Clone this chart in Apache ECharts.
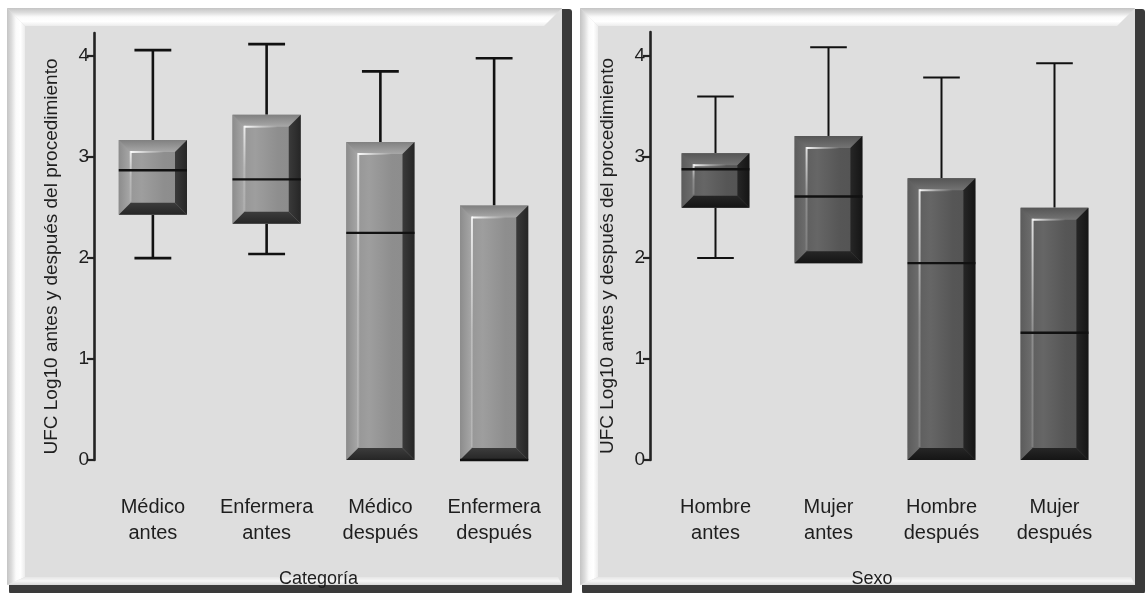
<!DOCTYPE html>
<html>
<head>
<meta charset="utf-8">
<script src="https://cdn.jsdelivr.net/npm/echarts@6/dist/echarts.min.js"></script>
<style>
  html, body { margin: 0; padding: 0; background: #ffffff; }
  #chart { width: 1145px; height: 593px; }
</style>
</head>
<body>
<div id="chart"></div>
<script>
// UFC (log10) before/after the procedure, by staff category and by sex
const categoriasProfesion = ['Médico\nantes', 'Enfermera\nantes', 'Médico\ndespués', 'Enfermera\ndespués'];
const minProfesion = [2.00, 2.04, 0.00, 0.00];
const q1Profesion  = [2.43, 2.34, 0.00, 0.00];
const medProfesion = [2.87, 2.78, 2.25, 0.00];
const q3Profesion  = [3.17, 3.42, 3.15, 2.52];
const maxProfesion = [4.06, 4.12, 3.85, 3.98];

const categoriasSexo = ['Hombre\nantes', 'Mujer\nantes', 'Hombre\ndespués', 'Mujer\ndespués'];
const minSexo = [2.00, 1.95, 0.00, 0.00];
const q1Sexo  = [2.50, 1.95, 0.00, 0.00];
const medSexo = [2.88, 2.61, 1.95, 1.26];
const q3Sexo  = [3.04, 3.21, 2.79, 2.50];
const maxSexo = [3.60, 4.09, 3.79, 3.93];

const yTicks = [0, 1, 2, 3, 4];
const yTitle = 'UFC Log10 antes y después del procedimiento';

function rows(mins, q1s, meds, q3s, maxs) {
  return mins.map((m, i) => [i, m, q1s[i], meds[i], q3s[i], maxs[i]]);
}

const lin = (x1, y1, x2, y2, stops) => ({
  type: 'linear', x: x1, y: y1, x2: x2, y2: y2,
  colorStops: stops.map((c, i) => ({ offset: i / (stops.length - 1), color: c }))
});

// Bevelled 3D box with whiskers
function makeRenderer(pal) {
  return function (params, api) {
    const x = api.value(0);
    const pMin = api.coord([x, api.value(1)]);
    const pQ1 = api.coord([x, api.value(2)]);
    const pMed = api.coord([x, api.value(3)]);
    const pQ3 = api.coord([x, api.value(4)]);
    const pMax = api.coord([x, api.value(5)]);
    const bw = api.size([1, 0])[0] * 0.6;
    const cx = pQ1[0];
    const x0 = cx - bw / 2, x1 = cx + bw / 2;
    const y0 = pQ3[1], y1 = pQ1[1];
    const h = y1 - y0;
    const b = Math.min(12, h / 2.2);
    const cap = bw * 0.27;
    const lineStyle = { stroke: '#111', lineWidth: pal.lw };
    const children = [];
    // whiskers
    children.push({ type: 'line', shape: { x1: cx, y1: pMax[1], x2: cx, y2: y0 }, style: lineStyle });
    children.push({ type: 'line', shape: { x1: cx - cap, y1: pMax[1], x2: cx + cap, y2: pMax[1] }, style: lineStyle });
    if (pMin[1] - y1 > 1) {
      children.push({ type: 'line', shape: { x1: cx, y1: y1, x2: cx, y2: pMin[1] }, style: lineStyle });
      children.push({ type: 'line', shape: { x1: cx - cap, y1: pMin[1], x2: cx + cap, y2: pMin[1] }, style: lineStyle });
    }
    // face
    children.push({ type: 'rect', shape: { x: x0, y: y0, width: bw, height: h },
      style: { fill: lin(0, 0, 1, 0, pal.face) } });
    // top bevel
    children.push({ type: 'polygon', shape: { points: [[x0, y0], [x1, y0], [x1 - b, y0 + b], [x0 + b, y0 + b]] },
      style: { fill: lin(0, 0, 0, 1, pal.top) } });
    // left bevel
    children.push({ type: 'polygon', shape: { points: [[x0, y0], [x0 + b, y0 + b], [x0 + b, y1 - b], [x0, y1]] },
      style: { fill: lin(0, 0, 1, 0, pal.left) } });
    // right bevel
    children.push({ type: 'polygon', shape: { points: [[x1, y0], [x1, y1], [x1 - b, y1 - b], [x1 - b, y0 + b]] },
      style: { fill: lin(0, 0, 1, 0, pal.right) } });
    // bottom bevel
    children.push({ type: 'polygon', shape: { points: [[x0, y1], [x1, y1], [x1 - b, y1 - b], [x0 + b, y1 - b]] },
      style: { fill: lin(0, 0, 0, 1, pal.bottom) } });
    // highlights
    children.push({ type: 'rect', shape: { x: x0 + b, y: y0 + b - 1, width: (bw - 2 * b) * 0.75, height: 2 },
      style: { fill: lin(0, 0, 1, 0, ['rgba(255,255,255,0.95)', 'rgba(255,255,255,0.4)', 'rgba(255,255,255,0)']) } });
    children.push({ type: 'rect', shape: { x: x0 + b - 1, y: y0 + b - 1, width: 2, height: Math.max(0, h - 2 * b) },
      style: { fill: lin(0, 0, 0, 1, ['rgba(255,255,255,0.8)', 'rgba(255,255,255,0.25)', 'rgba(255,255,255,0.15)']) } });
    // median
    children.push({ type: 'line', shape: { x1: x0, y1: pMed[1], x2: x1, y2: pMed[1] },
      style: { stroke: '#111', lineWidth: pal.mw } });
    return { type: 'group', children: children };
  };
}

const palLight = {
  lw: 2.6, mw: 2.4,
  face: ['#909090', '#9e9e9e', '#8e8e8e', '#8c8c8c'],
  top: ['#808080', '#a8a8a8'],
  left: ['#8c8c8c', '#a8a8a8'],
  right: ['#3a3a3a', '#262626'],
  bottom: ['#3c3c3c', '#262626']
};
const palDark = {
  lw: 2.0, mw: 2.4,
  face: ['#585858', '#666666', '#565656', '#535353'],
  top: ['#555555', '#737373'],
  left: ['#5c5c5c', '#6e6e6e'],
  right: ['#262626', '#151515'],
  bottom: ['#262626', '#151515']
};

// Raised panel frames
function panel(xa, xb, ya, yb) {
  const bv = 18;
  return [
    { type: 'rect', z: -20, shape: { x: xa + 2, y: ya + 1, width: xb - xa + 8, height: yb - ya + 8, r: 3 },
      style: { fill: '#3a3a3a' } },
    { type: 'rect', z: -19, shape: { x: xa, y: ya, width: xb - xa, height: yb - ya },
      style: { fill: '#dedede' } },
    { type: 'polygon', z: -18, shape: { points: [[xa, ya], [xb, ya], [xb - bv, ya + bv], [xa + bv, ya + bv]] },
      style: { fill: lin(0, 0, 0, 1, ['#c4c4c4', '#dcdcdc', '#fbfbfb', '#ffffff', '#ececec']) } },
    { type: 'polygon', z: -18, shape: { points: [[xa, ya], [xa + bv, ya + bv], [xa + bv, yb - 8], [xa, yb]] },
      style: { fill: lin(0, 0, 1, 0, ['#c4c4c4', '#dcdcdc', '#fbfbfb', '#ffffff', '#ececec']) } },
    { type: 'polygon', z: -18, shape: { points: [[xa + bv, yb - 8], [xb - 4, yb - 8], [xb, yb], [xa, yb]] },
      style: { fill: lin(0, 0, 0, 1, ['#e6e6e6', '#f6f6f6', '#d8d8d8']) } }
  ];
}

const chart = echarts.init(document.getElementById('chart'), null, { renderer: 'canvas' });

const fontFam = '"Liberation Sans", Arial, sans-serif';
const txt = '#1e1e1e';

function yAxisCfg(gridIndex, max, offset) {
  return {
    type: 'value', gridIndex: gridIndex, min: 0, max: max, interval: 1, offset: offset,
    name: yTitle, nameLocation: 'middle', nameGap: 33,
    nameTextStyle: { fontFamily: fontFam, fontSize: 19, color: txt, padding: [0, 20, 0, 0] },
    axisLine: { show: true, lineStyle: { color: '#222', width: 2.6 } },
    axisTick: { show: true, length: 7, lineStyle: { color: '#222', width: 2.2 }, customValues: yTicks },
    axisLabel: { fontFamily: fontFam, fontSize: 19, color: txt, margin: 5, customValues: yTicks },
    splitLine: { show: false }
  };
}

function xAxisCfg(gridIndex, cats, title, shift) {
  return {
    type: 'category', gridIndex: gridIndex, data: cats,
    name: title, nameLocation: 'middle', nameGap: 110,
    nameTextStyle: { fontFamily: fontFam, fontSize: 18, color: txt, padding: [0, shift, 0, 0] },
    axisLine: { show: false }, axisTick: { show: false },
    axisLabel: { fontFamily: fontFam, fontSize: 20, lineHeight: 26, color: txt, margin: 34, interval: 0 }
  };
}

chart.setOption({
  backgroundColor: '#ffffff',
  animation: false,
  graphic: { elements: panel(7, 562, 8, 585).concat(panel(580, 1135, 8, 585)) },
  grid: [
    { left: 96, width: 455, top: 33, height: 433 },
    { left: 659, width: 452, top: 32, height: 436 }
  ],
  xAxis: [
    xAxisCfg(0, categoriasProfesion, 'Categoría', 10),
    xAxisCfg(1, categoriasSexo, 'Sexo', 26)
  ],
  yAxis: [
    yAxisCfg(0, 4.23, 2),
    yAxisCfg(1, 4.24, 9)
  ],
  series: [
    {
      type: 'custom', xAxisIndex: 0, yAxisIndex: 0,
      renderItem: makeRenderer(palLight),
      encode: { x: 0, y: [1, 2, 3, 4, 5] },
      data: rows(minProfesion, q1Profesion, medProfesion, q3Profesion, maxProfesion)
    },
    {
      type: 'custom', xAxisIndex: 1, yAxisIndex: 1,
      renderItem: makeRenderer(palDark),
      encode: { x: 0, y: [1, 2, 3, 4, 5] },
      data: rows(minSexo, q1Sexo, medSexo, q3Sexo, maxSexo)
    }
  ]
});
</script>
</body>
</html>
